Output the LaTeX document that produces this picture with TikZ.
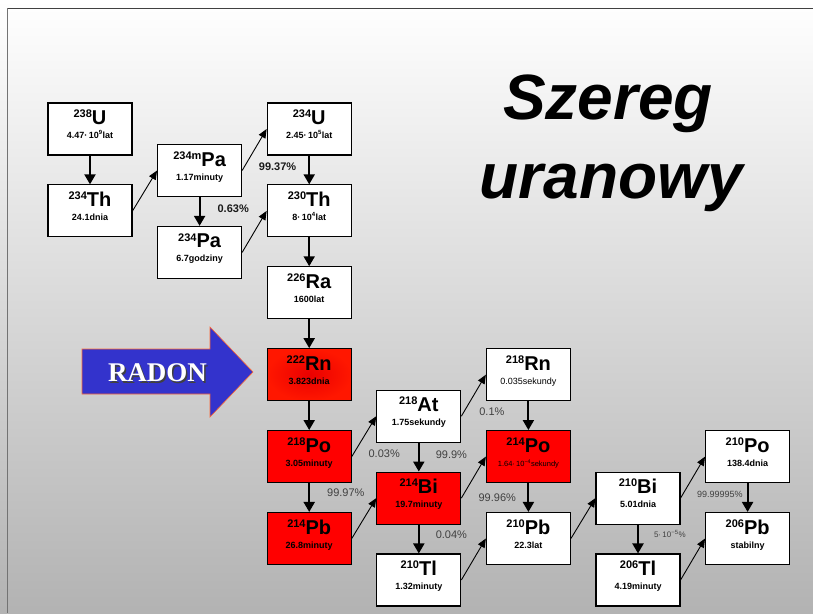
\documentclass[tikz,border=0pt]{standalone}
\usepackage{fontspec}
\setmainfont{Liberation Sans}
\newfontfamily\radonfont{Liberation Serif}
\usetikzlibrary{positioning, arrows.meta}

\definecolor{radonblue}{RGB}{51,51,204}
\definecolor{radonrim}{RGB}{255,102,51}

\newcommand{\isotope}[2]{\raisebox{0pt}[11.5pt][0pt]{\raisebox{6.8pt}{\fontsize{11}{11}\selectfont #1}\fontsize{20}{20}\selectfont #2}}
\newcommand{\halflife}[1]{\rule[-6.5pt]{0pt}{9pt}#1}

\tikzset{
    nuclide/.style={draw, rectangle, line width=1.1pt, fill=white, align=center, inner sep=0pt,
        minimum width=84pt, minimum height=52pt, font=\bfseries\fontsize{9}{14}\selectfont},
    hot/.style={nuclide, fill=red},
    decay/.style={line width=2pt, -{Triangle[length=10pt,width=11pt]}},
    branch/.style={line width=0.9pt, -{Triangle[length=9pt,width=7.5pt]}},
    pct/.style={inner sep=0pt, yshift=3pt, text=black!75, font=\fontsize{11}{11}\selectfont},
    pctbold/.style={pct, text=black!90, font=\bfseries\fontsize{11}{11}\selectfont},
    title/.style={anchor=base, font=\bfseries\itshape\fontsize{64}{64}\selectfont},
}

\begin{document}
\begin{tikzpicture}[x=1pt, y=-1pt, node distance=28.8pt]
    \useasboundingbox (0,0) rectangle (813,613);
    \shade[top color=white, bottom color=black!30] (0,0) rectangle (813,613);
    \draw[black!75, line width=1pt] (7,8) -- (813,8);
    \draw[black!55, line width=1.6pt] (7.5,8) -- (7.5,613);

    \node[title] (title1) at (608,119) {Szereg};
    \node[title] (title2) at (611,198) {uranowy};

    \node[nuclide] (u238) at (90,129) {\isotope{238}{U}\\\halflife{4.47·\,10\textsuperscript{9}lat}};
    \node[nuclide] (th234) [below=of u238] {\isotope{234}{Th}\\\halflife{24.1dnia}};
    \node[nuclide] (pa234m) [below right=-11.6pt and 24.5pt of u238] {\isotope{234m}{Pa}\\\halflife{1.17minuty}};
    \node[nuclide] (pa234) [below=of pa234m] {\isotope{234}{Pa}\\\halflife{6.7godziny}};
    \node[nuclide] (u234) [above right=-11.6pt and 24.5pt of pa234m] {\isotope{234}{U}\\\halflife{2.45·\,10\textsuperscript{5}lat}};
    \node[nuclide] (th230) [below=of u234] {\isotope{230}{Th}\\\halflife{8·\,10\textsuperscript{4}lat}};
    \node[nuclide] (ra226) [below=of th230] {\isotope{226}{Ra}\\\halflife{1600lat}};
    \node[hot, shade, inner color=red!92!black, outer color=red!82!orange] (rn222) [below=of ra226] {\isotope{222}{Rn}\\\halflife{3.823dnia}};
    \node[hot] (po218) [below=of rn222] {\isotope{218}{Po}\\\halflife{3.05minuty}};
    \node[hot] (pb214) [below=of po218] {\isotope{214}{Pb}\\\halflife{26.8minuty}};
    \node[nuclide] (at218) [below right=-11.6pt and 24.5pt of rn222] {\isotope{218}{At}\\\halflife{1.75sekundy}};
    \node[hot] (bi214) [below=of at218] {\isotope{214}{Bi}\\\halflife{19.7minuty}};
    \node[nuclide] (tl210) [below=of bi214] {\isotope{210}{Tl}\\\halflife{1.32minuty}};
    \node[nuclide] (rn218) [above right=-11.6pt and 24.5pt of at218] {\isotope{218}{Rn}\\\halflife{\mdseries 0.035sekundy}};
    \node[hot] (po214) [below=of rn218] {\isotope{214}{Po}\\\halflife{\mdseries\fontsize{7.5}{14}\selectfont 1.64·\,10\textsuperscript{−4}sekundy}};
    \node[nuclide] (pb210) [below=of po214] {\isotope{210}{Pb}\\\halflife{22.3lat}};
    \node[nuclide] (bi210) [below right=-11.6pt and 24.5pt of po214] {\isotope{210}{Bi}\\\halflife{5.01dnia}};
    \node[nuclide] (tl206) [below=of bi210] {\isotope{206}{Tl}\\\halflife{4.19minuty}};
    \node[nuclide] (po210) [above right=-11.6pt and 24.5pt of bi210] {\isotope{210}{Po}\\\halflife{138.4dnia}};
    \node[nuclide] (pb206) [below=of po210] {\isotope{206}{Pb}\\\halflife{stabilny}};

    % radon arrow
    \filldraw[fill=radonblue, draw=radonrim, line width=0.6pt]
        (82,349) -- (210,349) -- (210,327) -- (253,372) -- (210,417) -- (210,394) -- (82,394) -- cycle;
    \node[text=black!75, font=\radonfont\bfseries\fontsize{27}{27}\selectfont] (radonshadow) at (159,374.5) {RADON};
    \node[text=white, font=\radonfont\bfseries\fontsize{27}{27}\selectfont] (radon) at (157.5,373) {RADON};

    \draw[decay] (u238) -- (th234);
    \draw[branch] (th234.east) -- (pa234m.west);
    \draw[branch] (pa234m.east) -- (u234.west);
    \draw[decay] (pa234m) -- node[pctbold, right=17pt] {0.63\%} (pa234);
    \draw[branch] (pa234.east) -- (th230.west);
    \draw[decay] (u234) -- node[pctbold, left=12pt] {99.37\%} (th230);
    \draw[decay] (th230) -- (ra226);
    \draw[decay] (ra226) -- (rn222);
    \draw[decay] (rn222) -- (po218);
    \draw[branch] (po218.east) -- (at218.west);
    \draw[decay] (po218) -- node[pct, right=17pt, yshift=1.5pt] {99.97\%} (pb214);
    \draw[branch] (pb214.east) -- (bi214.west);
    \draw[decay] (at218) -- node[pct, left=18pt] {0.03\%} node[pct, right=16pt, yshift=-1pt] {99.9\%} (bi214);
    \draw[branch] (at218.east) -- (rn218.west);
    \draw[decay] (rn218) -- node[pct, left=23pt, yshift=1pt] {0.1\%} (po214);
    \draw[branch] (bi214.east) -- (po214.west);
    \draw[decay] (bi214) -- node[pct, right=16pt, yshift=1pt] {0.04\%} (tl210);
    \draw[decay] (po214) -- node[pct, left=11.5pt, yshift=-3pt] {99.96\%} (pb210);
    \draw[branch] (tl210.east) -- (pb210.west);
    \draw[branch] (pb210.east) -- (bi210.west);
    \draw[branch] (bi210.east) -- (po210.west);
    \draw[decay] (bi210) -- node[pct, right=15pt, yshift=2pt, font=\fontsize{8}{8}\selectfont] {5·\,10\textsuperscript{−5}\%} (tl206);
    \draw[decay] (po210) -- node[pct, left=4pt, font=\fontsize{9}{9}\selectfont] {99.99995\%} (pb206);
    \draw[branch] (tl206.east) -- (pb206.west);
\end{tikzpicture}
\end{document}
